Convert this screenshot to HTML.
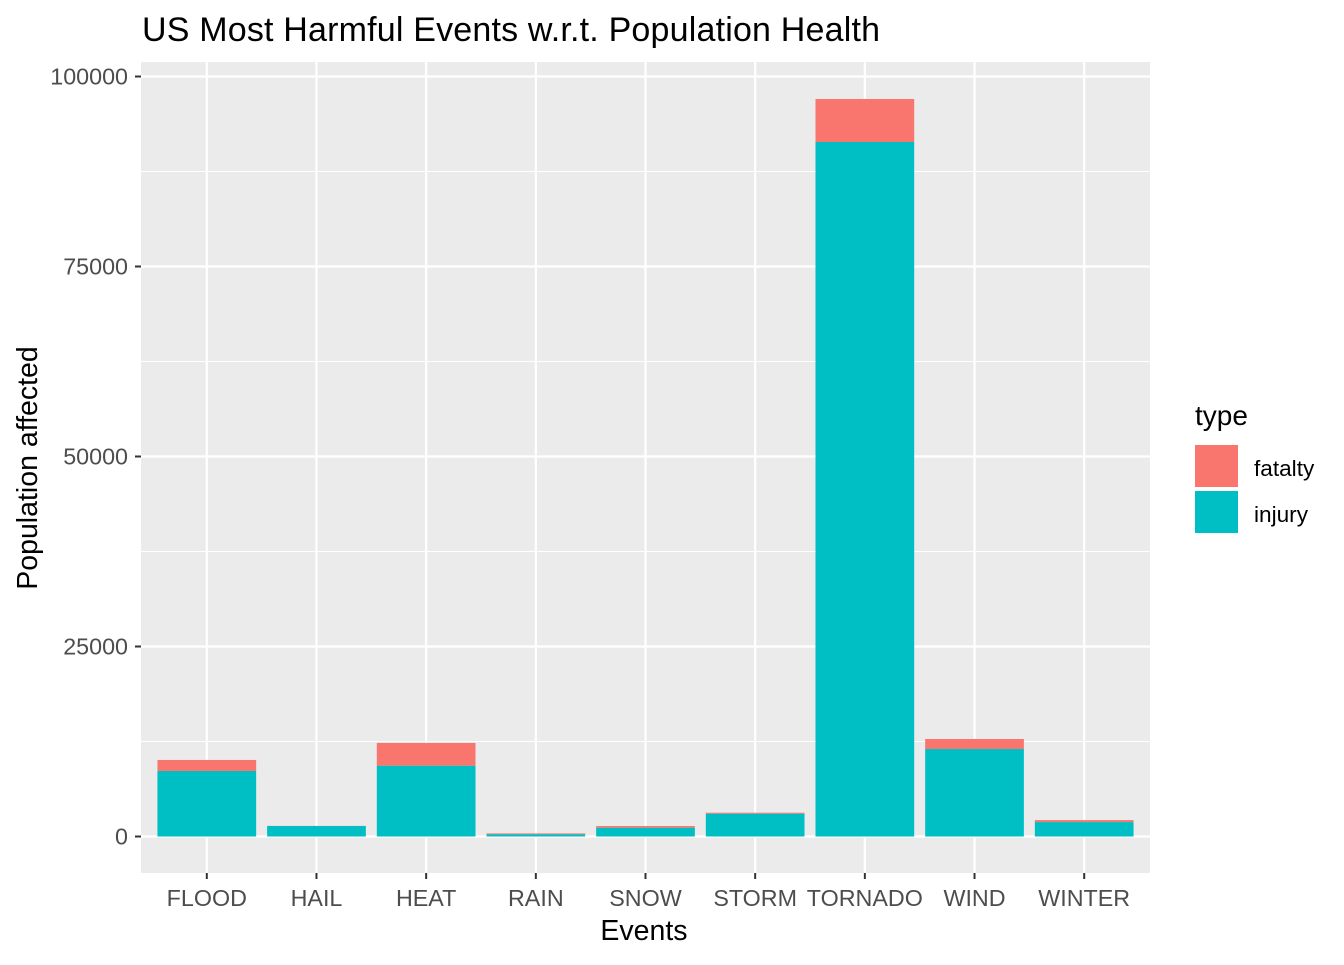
<!DOCTYPE html>
<html><head><meta charset="utf-8"><style>
body{margin:0;background:#fff;font-family:"Liberation Sans",Arial,sans-serif}
</style></head><body>
<svg width="1344" height="960" xmlns="http://www.w3.org/2000/svg" font-family="Liberation Sans, Arial, sans-serif">
<text x="142" y="41" font-size="34" textLength="738" fill="#000">US Most Harmful Events w.r.t. Population Health</text>
<rect x="141" y="62" width="1009" height="811" fill="#ebebeb"/>
<g id="grid"></g><g id="bars"></g><g id="axes"></g>
<text x="644" y="940" font-size="28.5" text-anchor="middle">Events</text>
<text transform="translate(37,468) rotate(-90)" font-size="28.5" text-anchor="middle">Population affected</text>
<g>
<text x="1195" y="425" font-size="28">type</text>
<g><rect x="1195" y="445" width="43" height="42" fill="#f8766d"/><text x="1254" y="476" font-size="22.6">fatalty</text></g>
<g><rect x="1195" y="491" width="43" height="42" fill="#00bfc4"/><text x="1254" y="522" font-size="22.6">injury</text></g>
</g>
</svg>
<script>
const categories=["FLOOD","HAIL","HEAT","RAIN","SNOW","STORM","TORNADO","WIND","WINTER"];
const injury=[8620,1380,9320,300,1160,3000,91380,11510,1900];
const fatality=[1450,15,2990,110,220,130,5660,1320,260];
const yTicks=[0,25000,50000,75000,100000];
const NS="http://www.w3.org/2000/svg";
const x0=141,x1=1150,step=(x1-x0)/(categories.length+0.2);
const xc=i=>x0+step*(0.6+i);
const y=v=>836.5-v*0.0076;
function mk(t,a,p){const e=document.createElementNS(NS,t);for(const k in a)e.setAttribute(k,a[k]);p.appendChild(e);return e;}
const grid=document.getElementById('grid'),bars=document.getElementById('bars'),axes=document.getElementById('axes');
yTicks.forEach((v,i)=>{
 if(i<yTicks.length-1){const m=mk('line',{x1:x0,x2:x1,y1:y(v+12500),y2:y(v+12500),stroke:'#fff','stroke-width':1},grid);
 
 }
 const g=mk('line',{x1:x0,x2:x1,y1:y(v),y2:y(v),stroke:'#fff','stroke-width':2.2},grid);
 
 
 mk('line',{x1:135,x2:141,y1:y(v),y2:y(v),stroke:'#333','stroke-width':2},axes);
 const t=mk('text',{x:128,y:y(v)+8,'font-size':23.3,fill:'#4d4d4d','text-anchor':'end'},axes);t.textContent=v;
 
 
});
const bw=step*0.9;
categories.forEach((c,i)=>{
 const g=mk('line',{x1:xc(i),x2:xc(i),y1:62,y2:873,stroke:'#fff','stroke-width':2.2},grid);
 
 
 const r1=mk('rect',{x:xc(i)-bw/2,y:y(injury[i]),width:bw,height:y(0)-y(injury[i]),fill:'#00bfc4'},bars);
 
 
 const r2=mk('rect',{x:xc(i)-bw/2,y:y(injury[i]+fatality[i]),width:bw,height:y(injury[i])-y(injury[i]+fatality[i]),fill:'#f8766d'},bars);
 
 
 mk('line',{x1:xc(i),x2:xc(i),y1:873,y2:879,stroke:'#333','stroke-width':2},axes);
 const t=mk('text',{x:xc(i),y:906,'font-size':23.3,fill:'#4d4d4d','text-anchor':'middle'},axes);t.textContent=c;
 
 
});
</script>
</body></html>
